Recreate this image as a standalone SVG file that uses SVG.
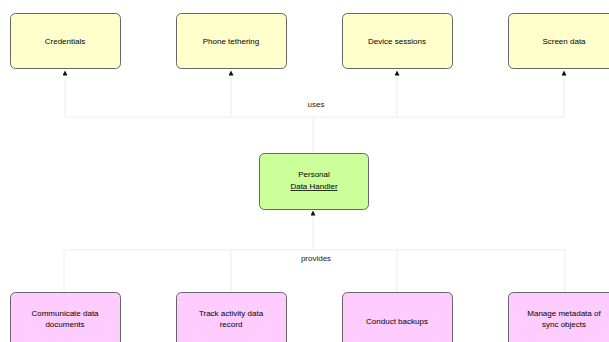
<svg xmlns="http://www.w3.org/2000/svg" width="609" height="342" viewBox="0 0 609 342">
<defs>
<style>
.n rect{stroke:#666;stroke-width:1}
.y rect{fill:#ffffcc}
.g rect{fill:#ccff99}
.p rect{fill:#ffccff}
text{font-family:"Liberation Sans",Arial,sans-serif;font-size:8px;fill:#000;text-anchor:middle}
.c line{stroke:#ececec;stroke-width:1;fill:none}
.lbl{font-size:8px;fill:#222}
</style>
<marker id="ah" markerWidth="5" markerHeight="5" refX="2.5" refY="2.5" orient="auto" markerUnits="userSpaceOnUse">
<path d="M0,0 L5,2.5 L0,5 Z" fill="#111"/>
</marker>
</defs>
<rect width="609" height="342" fill="#fff"/>
<g id="connectors" class="c">
<line x1="65" y1="117" x2="65" y2="73" marker-end="url(#ah)"/>
<line x1="231" y1="117" x2="231" y2="73" marker-end="url(#ah)"/>
<line x1="397" y1="117" x2="397" y2="73" marker-end="url(#ah)"/>
<line x1="564" y1="117" x2="564" y2="73" marker-end="url(#ah)"/>
<line x1="65" y1="117" x2="564" y2="117"/>
<line x1="313" y1="117" x2="313" y2="153"/>
<line x1="313" y1="250" x2="313" y2="213" marker-end="url(#ah)"/>
<line x1="64" y1="250" x2="565" y2="250"/>
<line x1="64" y1="250" x2="64" y2="292"/>
<line x1="231" y1="250" x2="231" y2="292"/>
<line x1="397" y1="250" x2="397" y2="292"/>
<line x1="565" y1="250" x2="565" y2="292"/>
<text class="lbl" x="316" y="107">uses</text>
<text class="lbl" x="316" y="261">provides</text>
</g>
<g id="n1" class="n y"><rect x="10.5" y="13.5" width="110" height="55" rx="5"/><text x="65" y="44">Credentials</text></g>
<g id="n2" class="n y"><rect x="176.5" y="13.5" width="110" height="55" rx="5"/><text x="231" y="44">Phone tethering</text></g>
<g id="n3" class="n y"><rect x="342.5" y="13.5" width="110" height="55" rx="5"/><text x="397" y="44">Device sessions</text></g>
<g id="n4" class="n y"><rect x="508.5" y="13.5" width="110" height="55" rx="5"/><text x="564" y="44">Screen data</text></g>
<g id="center" class="n g"><rect x="259.5" y="153.5" width="109" height="56" rx="5"/><text x="314" y="177">Personal</text><text x="314" y="189" text-decoration="underline">Data Handler</text></g>
<g id="b1" class="n p"><rect x="10.5" y="292.5" width="110" height="55" rx="5"/><text x="65" y="316">Communicate data</text><text x="65" y="327">documents</text></g>
<g id="b2" class="n p"><rect x="176.5" y="292.5" width="110" height="55" rx="5"/><text x="231" y="316">Track activity data</text><text x="231" y="327">record</text></g>
<g id="b3" class="n p"><rect x="342.5" y="292.5" width="110" height="55" rx="5"/><text x="397" y="324">Conduct backups</text></g>
<g id="b4" class="n p"><rect x="508.5" y="292.5" width="110" height="55" rx="5"/><text x="564" y="316">Manage metadata of</text><text x="564" y="327">sync objects</text></g>
</svg>
